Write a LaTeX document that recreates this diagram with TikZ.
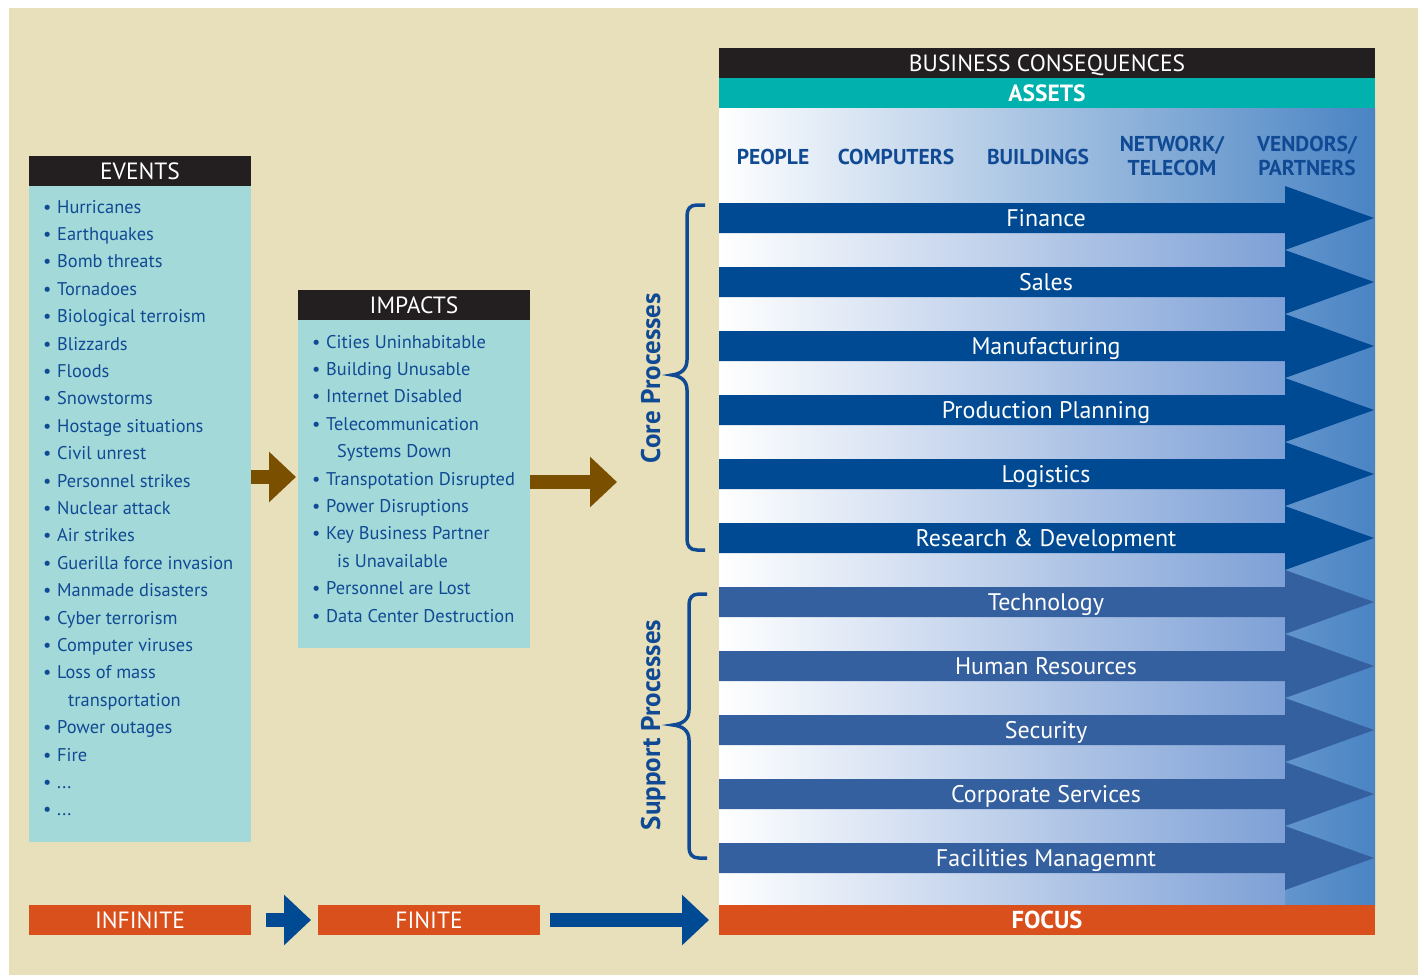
\documentclass[tikz,border=0pt]{standalone}
\usepackage{fontspec}
\setmainfont{PT Sans}
\usetikzlibrary{arrows.meta}
\definecolor{beige}{RGB}{232,224,186}
\definecolor{hdrblack}{RGB}{35,31,32}
\definecolor{assetteal}{RGB}{0,177,174}
\definecolor{boxteal}{RGB}{163,217,216}
\definecolor{txtblue}{RGB}{16,74,148}
\definecolor{corebl}{RGB}{0,74,147}
\definecolor{suppbl}{RGB}{53,96,159}
\definecolor{orng}{RGB}{218,80,28}
\definecolor{brwn}{RGB}{122,80,0}
\definecolor{bgblue}{RGB}{74,132,196}
\definecolor{bgmid}{RGB}{190,203,232}
\definecolor{stripend}{RGB}{125,160,214}
\definecolor{stripmid}{RGB}{205,214,238}
\newcommand\bulbox{\makebox[14pt][l]{\textbullet}}
\newcommand\threedots{...}
\begin{document}
\begin{tikzpicture}[x=1pt,y=-1pt,
  blk/.style={draw=none,inner sep=0pt,outer sep=0pt},
  capbox/.style={text height=16.5pt,text depth=0pt},
  hdr/.style={blk,capbox,fill=hdrblack,text=white,minimum height=30pt,font=\fontsize{23.5}{23.5}\selectfont},
  tealbox/.style={blk,fill=boxteal},
  orbox/.style={blk,capbox,fill=orng,text=white,minimum height=30pt,font=\fontsize{23.5}{23.5}\selectfont},
  listtxt/.style={inner sep=0pt,anchor=base west,text=txtblue,font=\fontsize{18.4}{22}\selectfont},
  collab/.style={inner sep=0pt,anchor=base,text=txtblue,font=\fontsize{21.5}{24}\selectfont\bfseries},
  arrowlab/.style={inner sep=0pt,anchor=base,text=white,font=\fontsize{24}{24}\selectfont},
  brownarrow/.style={draw=brwn,line width=14pt,-{Triangle[length=27pt,width=49pt]}},
  bluearrow/.style={draw=corebl,line width=14pt,-{Triangle[length=27pt,width=49pt]}},
  bracestyle/.style={draw=txtblue,line width=3.5pt,line cap=butt},
  sidelab/.style={inner sep=0pt,anchor=base,rotate=90,text=txtblue,font=\fontsize{27}{27}\selectfont\bfseries}]
\useasboundingbox (0,0) rectangle (1418,975);
\fill[white] (0,0) rectangle (1418,975);
\fill[beige] (9,8) rectangle (1418,975);

% ---------- right panel ----------
\shade[left color=white,middle color=bgmid,right color=bgblue] (719,108) rectangle (1375,905);
\shade[left color=white,middle color=stripmid,right color=stripend] (719,233) rectangle (1285,905);
\node[hdr,minimum width=656pt] (bc) at (1047,63) {BUSINESS CONSEQUENCES};
\node[blk,capbox,fill=assetteal,text=white,minimum width=656pt,minimum height=30pt,font=\fontsize{23.5}{23.5}\selectfont\bfseries] (assets) at (1047,93) {ASSETS};
\node[collab] (people) at (773,164.5) {PEOPLE};
\node[collab] (computers) at (896,164.5) {COMPUTERS};
\node[collab] (buildings) at (1038,164.5) {BUILDINGS};
\node[collab] (network) at (1172,151.5) {NETWORK/};
\node[collab] (telecom) at (1172,175.5) {TELECOM};
\node[collab] (vendors) at (1307,151.5) {VENDORS/};
\node[collab] (partners) at (1307,175.5) {PARTNERS};

\foreach \lab/\c/\col [count=\i] in {Finance/218/corebl, Sales/282/corebl, Manufacturing/346/corebl, Production Planning/410/corebl, Logistics/474/corebl, Research \& Development/538/corebl, Technology/602/suppbl, Human Resources/666/suppbl, Security/730/suppbl, Corporate Services/794/suppbl, Facilities Managemnt/858/suppbl}{
  \fill[\col] (719,\c-15) -- (1285,\c-15) -- (1285,\c-32) -- (1374,\c) -- (1285,\c+32) -- (1285,\c+15) -- (719,\c+15) -- cycle;
  \node[arrowlab] (proc\i) at (1046,\c+8.4) {\lab};
}
\node[orbox,minimum width=656pt,font=\fontsize{24.5}{24.5}\selectfont\bfseries] (focus) at (1047,920) {FOCUS};

% ---------- braces ----------
\draw[bracestyle] (705,205) -- (697,205) .. controls (690,205) and (687,209) .. (687,216) -- (687,360) .. controls (687,370) and (680,374) .. (672,375) .. controls (680,376) and (687,380) .. (687,390) -- (687,539) .. controls (687,546) and (690,550) .. (697,550) -- (705,550);
\draw[bracestyle] (707,594) -- (699,594) .. controls (692,594) and (689,598) .. (689,605) -- (689,710) .. controls (689,720) and (682,724) .. (673,725) .. controls (682,726) and (689,730) .. (689,740) -- (689,847) .. controls (689,854) and (692,858) .. (699,858) -- (707,858);
\node[sidelab] (core) at (660,378) {Core Processes};
\node[sidelab] (support) at (660,725) {Support Processes};

% ---------- events ----------
\node[hdr,minimum width=222pt] (events) at (140,171) {EVENTS};
\node[tealbox,minimum width=222pt,minimum height=656pt] (evbody) at (140,514) {};
\foreach \k/\t [count=\i from 0] in {b/Hurricanes, b/Earthquakes, b/Bomb threats, b/Tornadoes, b/Biological terroism, b/Blizzards, b/Floods, b/Snowstorms, b/Hostage situations, b/Civil unrest, b/Personnel strikes, b/Nuclear attack, b/Air strikes, b/Guerilla force invasion, b/Manmade disasters, b/Cyber terrorism, b/Computer viruses, b/Loss of mass, c/transportation, b/Power outages, b/Fire, b/\threedots, b/\threedots}{
  \node[listtxt] (ev\i) at (43,213+27.4*\i) {\if\k b\bulbox\else\hspace*{25pt}\fi\t};
}

% ---------- impacts ----------
\node[hdr,minimum width=232pt] (impacts) at (414,305) {IMPACTS};
\node[tealbox,minimum width=232pt,minimum height=328pt] (impbody) at (414,484) {};
\foreach \k/\t [count=\i from 0] in {b/Cities Uninhabitable, b/Building Unusable, b/Internet Disabled, b/Telecommunication, c/Systems Down, b/Transpotation Disrupted, b/Power Disruptions, b/Key Business Partner, c/is Unavailable, b/Personnel are Lost, b/Data Center Destruction}{
  \node[listtxt] (im\i) at (312,348+27.4*\i) {\if\k b\bulbox\else\hspace*{25pt}\fi\t};
}

% ---------- connectors ----------
\coordinate (y1) at (0,477);
\coordinate (y2) at (0,482);
\coordinate (a2end) at (617,482);
\draw[brownarrow,shorten >=2pt] (evbody.east |- y1) -- (impbody.west |- y1);
\draw[brownarrow] (impbody.east |- y2) -- (a2end);

% ---------- bottom row ----------
\node[orbox,minimum width=222pt] (infinite) at (140,920) {INFINITE};
\node[orbox,minimum width=222pt] (finite) at (429,920) {FINITE};
\draw[bluearrow,shorten <=15pt,shorten >=7pt] (infinite.east) -- (finite.west);
\draw[bluearrow,shorten <=10pt,shorten >=10pt] (finite.east) -- (focus.west);
\end{tikzpicture}
\end{document}
